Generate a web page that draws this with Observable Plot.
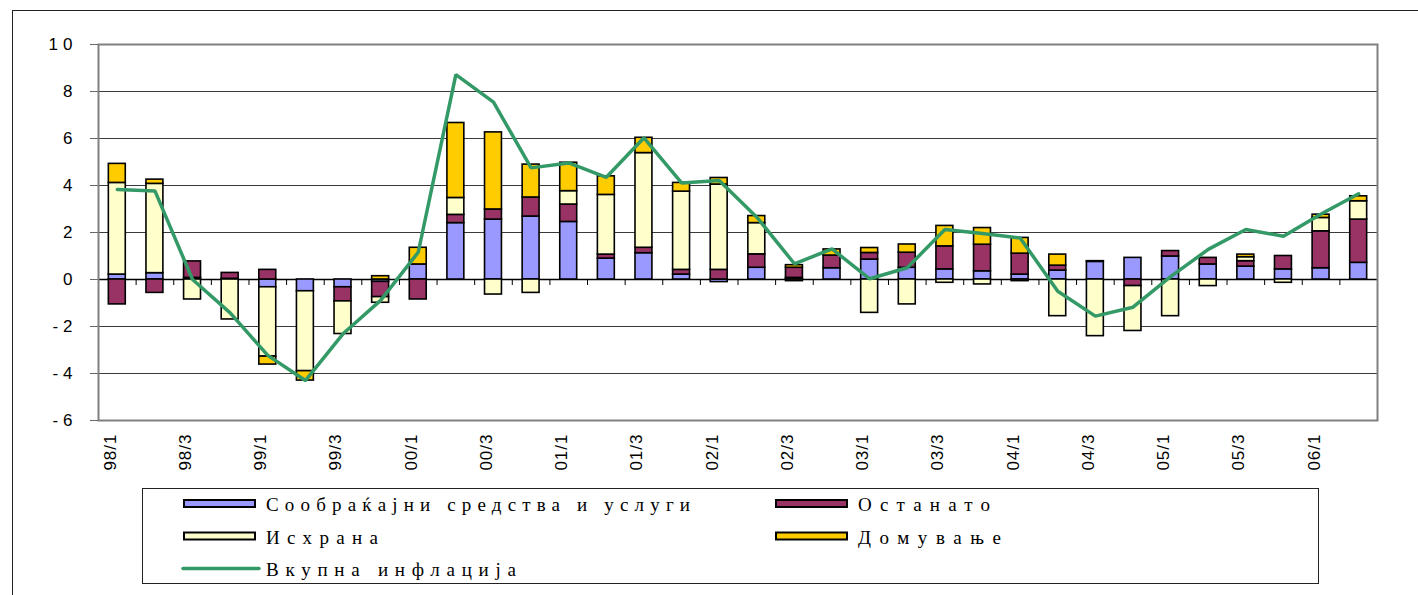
<!DOCTYPE html>
<html>
<head>
<meta charset="utf-8">
<script src="https://cdn.jsdelivr.net/npm/d3@7"></script>
<script src="https://cdn.jsdelivr.net/npm/@observablehq/plot@0.6"></script>
<style>
  html, body { margin: 0; padding: 0; background: #fff; overflow: hidden; }
  #wrap { position: relative; width: 1418px; height: 595px; overflow: hidden; }
  #outer { position: absolute; left: 12px; top: 10px; width: 1500px; height: 700px; border-left: 1px solid #222; border-top: 1px solid #222; }
  #chart { position: absolute; left: 0; top: 0; }
  #legend { position: absolute; left: 142px; top: 488px; }
  g[aria-label="y-axis tick label"] text { letter-spacing: 5px; }
  g[aria-label="x-axis tick label"] text { letter-spacing: 1px; }
</style>
</head>
<body>
<div id="wrap">
  <div id="outer"></div>
  <div id="chart"></div>
  <div id="legend"></div>
</div>
<script>
// ---- data ----
const quarters = ["98/1","98/2","98/3","98/4","99/1","99/2","99/3","99/4",
  "00/1","00/2","00/3","00/4","01/1","01/2","01/3","01/4",
  "02/1","02/2","02/3","02/4","03/1","03/2","03/3","03/4",
  "04/1","04/2","04/3","04/4","05/1","05/2","05/3","05/4","06/1","06/2"];
const seriesNames = ["Сообраќајни средства и услуги", "Останато", "Исхрана", "Домување"];
const lineName = "Вкупна инфлација";
const transport = [0.21,0.27,0.07,0.03,-0.33,-0.50,-0.33,-0.10,
  0.64,2.40,2.55,2.68,2.45,0.89,1.12,0.21,
  -0.11,0.50,0.07,0.48,0.85,0.50,0.43,0.35,
  0.21,0.38,0.75,0.92,0.98,0.64,0.55,0.43,0.48,0.71];
const other = [-1.06,-0.57,0.70,0.25,0.41,0,-0.60,-0.65,
  -0.85,0.35,0.43,0.81,0.74,0.17,0.23,0.20,
  0.41,0.57,0.43,0.54,0.28,0.64,0.98,1.13,
  0.89,0.21,0.03,-0.28,0.23,0.28,0.23,0.57,1.57,1.84];
const food = [3.90,3.80,-0.85,-1.70,-2.95,-3.40,-1.39,-0.24,
  0,0.72,-0.64,-0.57,0.57,2.54,4.03,3.33,
  3.63,1.33,-0.07,0,-1.42,-1.06,-0.14,-0.21,
  -0.07,-1.56,-2.41,-1.91,-1.56,-0.28,0.17,-0.14,0.57,0.78];
const housing = [0.81,0.18,0,0,-0.34,-0.40,0,0.14,
  0.71,3.19,3.28,1.40,1.21,0.79,0.65,0.37,
  0.28,0.30,0.11,0.26,0.21,0.35,0.87,0.71,
  0.67,0.47,0,0,0,0,0.11,0,0.14,0.21];
const total = [3.83,3.77,0.0,-1.42,-3.23,-4.30,-2.31,-0.89,
  1.16,8.72,7.55,4.75,4.96,4.35,6.03,4.11,
  4.21,2.65,0.67,1.30,0.03,0.50,2.13,1.96,
  1.77,-0.50,-1.56,-1.18,0.12,1.28,2.13,1.84,2.79,3.65];
const yTicks = [-6,-4,-2,0,2,4,6,8,10];
const xTickLabels = quarters.filter((d, i) => i % 2 === 0);

// ---- styles ----
const seriesColors = ["#9999FF", "#993366", "#FFFFCC", "#FFCC00"];
const lineColor = "#339966";

// ---- build tables ----
const seriesValues = [transport, other, food, housing];
const rows = [];
seriesNames.forEach((s, si) => quarters.forEach((q, qi) => {
  const v = seriesValues[si][qi];
  if (v !== 0) rows.push({q, s, v});
}));
const lineData = quarters.map((q, i) => ({q, v: total[i]}));

const W = 1418, H = 480, mL = 98, mR = 41, mT = 44, mB = 60;
const step = (W - mL - mR) / quarters.length;

const chart = Plot.plot({
  width: W, height: H,
  marginLeft: mL, marginRight: mR, marginTop: mT, marginBottom: mB,
  style: {fontFamily: "'Liberation Sans', Arial, sans-serif", fontSize: "17px", color: "#000", background: "transparent", overflow: "visible"},
  x: {domain: quarters, paddingInner: 0.55, paddingOuter: 0.275, align: 0.5, round: false, label: null},
  y: {domain: [-6, 10], label: null},
  color: {domain: seriesNames, range: seriesColors},
  marks: [
    Plot.ruleY(yTicks, {stroke: "#3a3a3a", strokeWidth: 1}),
    Plot.ruleY([0], {stroke: "#000", strokeWidth: 1.5}),
    Plot.ruleX(quarters, {x: d => d, y1: 0, y2: 0, insetBottom: -6, dx: -step / 2, stroke: "#000", strokeWidth: 1}),
    Plot.ruleX([quarters[quarters.length - 1]], {x: d => d, y1: 0, y2: 0, insetBottom: -6, dx: step / 2, stroke: "#000", strokeWidth: 1}),
    Plot.barY(rows, {x: "q", y: "v", fill: "s", z: "s", stroke: "#000", strokeWidth: 1.6}),
    Plot.line(lineData, {x: "q", y: "v", stroke: lineColor, strokeWidth: 3.5, strokeLinejoin: "miter"}),
    Plot.frame({stroke: "#808080", strokeWidth: 2}),
    Plot.axisY({ticks: yTicks, label: null, tickSize: 8, tickPadding: 13, tickFormat: d => String(d), stroke: "#666", fill: "#000", fontSize: 17}),
    Plot.axisX({ticks: xTickLabels, label: null, tickSize: 0, tickPadding: 13, tickRotate: -90, dx: -7, fill: "#000", fontSize: 17})
  ]
});
document.getElementById("chart").appendChild(chart);

// ---- legend ----
const LW = 1177, LH = 96;
const lg = d3.select("#legend").append("svg").attr("width", LW).attr("height", LH)
  .style("overflow", "visible");
lg.append("rect").attr("x", 0.5).attr("y", 0.5).attr("width", LW - 1).attr("height", LH - 1)
  .attr("fill", "#fff").attr("stroke", "#222").attr("stroke-width", 1);
const items = seriesNames.map((name, i) => ({name, color: seriesColors[i], type: "rect"}))
  .concat([{name: lineName, color: lineColor, type: "line"}]);
const textLens = [424, 132, 112, 143, 250];
const colX = [41, 633];
items.forEach((it, i) => {
  const col = it.type === "line" ? 0 : i % 2;
  const row = it.type === "line" ? 2 : Math.floor(i / 2);
  const cy = 15.5 + row * 32.5;
  const x0 = colX[col];
  if (it.type === "rect") {
    lg.append("rect").attr("x", x0 + 1).attr("y", cy - 3.5).attr("width", 71).attr("height", 7)
      .attr("fill", it.color).attr("stroke", "#000").attr("stroke-width", 2);
  } else {
    lg.append("line").attr("x1", x0).attr("x2", x0 + 76).attr("y1", cy).attr("y2", cy)
      .attr("stroke", it.color).attr("stroke-width", 3.5).attr("stroke-linecap", "round");
  }
  lg.append("text").attr("x", x0 + 83).attr("y", cy + 7.5)
    .attr("font-family", "'Liberation Serif', 'Times New Roman', serif")
    .attr("font-size", 19).attr("fill", "#000")
    .attr("textLength", textLens[i]).attr("lengthAdjust", "spacing")
    .text(it.name);
});
</script>
</body>
</html>
